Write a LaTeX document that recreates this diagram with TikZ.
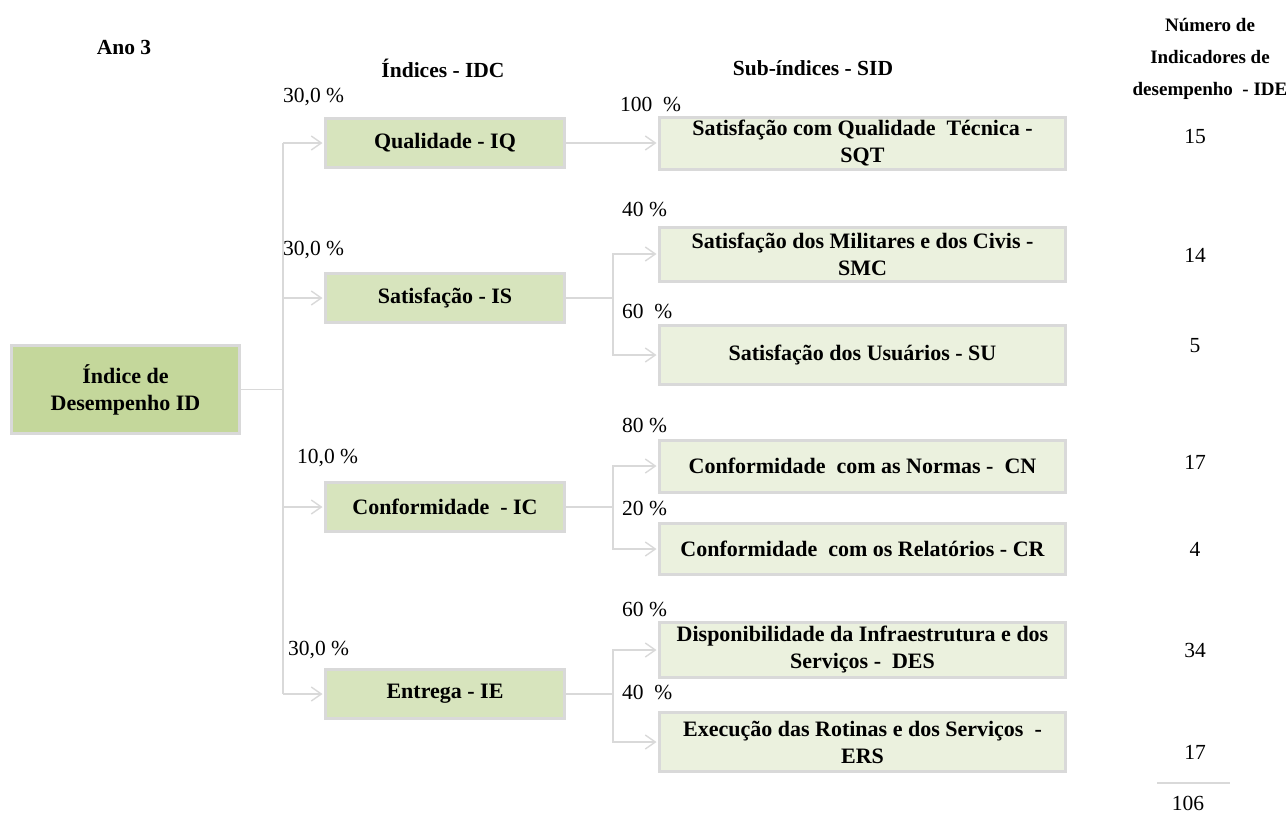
\documentclass[tikz,border=0pt]{standalone}
\usepackage{fontspec}
\setmainfont{Liberation Serif}
\usetikzlibrary{arrows.meta}
\definecolor{edgegray}{HTML}{D9D9D9}
\definecolor{rootfill}{HTML}{C4D79B}
\definecolor{midfill}{HTML}{D7E4BD}
\definecolor{subfill}{HTML}{EBF1DE}
\begin{document}
\begin{tikzpicture}[x=1pt,y=-1pt,
  txt/.style={inner sep=0pt, font=\fontsize{21.5}{26}\selectfont},
  hdr/.style={txt, font=\fontsize{21.5}{31}\selectfont\bfseries, align=center},
  hdrsmall/.style={txt, font=\fontsize{19}{32}\selectfont\bfseries, align=center},
  pct/.style={txt, anchor=west},
  num/.style={txt},
  boxbase/.style={draw=edgegray, line width=3pt, align=center, inner sep=2pt,
    font=\fontsize{22}{27}\selectfont\bfseries},
  rootbox/.style={boxbase, fill=rootfill, minimum width=228, minimum height=88},
  midbox/.style={boxbase, fill=midfill, minimum width=239, minimum height=49},
  subbox/.style={boxbase, fill=subfill, minimum width=406, minimum height=#1},
  subbox/.default=52,
  conn/.style={draw=edgegray, line width=1.6pt},
  arr/.style={conn, -{Straight Barb[length=10pt,width=14pt,line width=1.4pt]}, shorten >=1.5pt}
]
\useasboundingbox (0,0) rectangle (1286,814);

% headers
\node[hdr] (ano) at (124,47) {Ano 3};
\node[hdr] (hidc) at (443,68) {Índices - IDC};
\node[hdr] (hsid) at (813,68) {Sub-índices - SID};
\node[hdrsmall] (hide) at (1210,59) {Número de\\Indicadores de\\desempenho~ - IDE};

% root
\node[rootbox] (root) at (125.5,389.5) {Índice de\\Desempenho ID};

% indices
\node[midbox] (IQ) at (445,143) {Qualidade - IQ};
\node[midbox] (IS) at (445,298) {Satisfação - IS};
\node[midbox] (IC) at (445,507) {Conformidade~ - IC};
\node[midbox] (IE) at (445,694) {Entrega - IE};

% sub-indices
\node[subbox=52] (SQT) at (862.5,143) {Satisfação com Qualidade~ Técnica -\\SQT};
\node[subbox=54] (SMC) at (862.5,254) {Satisfação dos Militares e dos Civis -\\SMC};
\node[subbox=59] (SU)  at (862.5,355) {Satisfação dos Usuários - SU};
\node[subbox=52] (CN)  at (862.5,466) {Conformidade~ com as Normas -~ CN};
\node[subbox=51] (CR)  at (862.5,549) {Conformidade~ com os Relatórios - CR};
\node[subbox=55] (DES) at (862.5,650) {Disponibilidade da Infraestrutura e dos\\Serviços -~ DES};
\node[subbox=59] (ERS) at (862.5,742) {Execução das Rotinas e dos Serviços~ -\\ERS};

% weights
\node[pct] (pIQ) at (283,97)  {30,0 \%};
\node[pct] (pIS) at (283,250) {30,0 \%};
\node[pct] (pIC) at (297,458) {10,0 \%};
\node[pct] (pIE) at (288,650) {30,0 \%};
\node[pct] (pSQT) at (620,104) {100~ \%};
\node[pct] (pSMC) at (622,209) {40 \%};
\node[pct] (pSU)  at (622,311) {60~ \%};
\node[pct] (pCN)  at (622,425) {80 \%};
\node[pct] (pCR)  at (622,508) {20 \%};
\node[pct] (pDES) at (622,609) {60 \%};
\node[pct] (pERS) at (622,692) {40~ \%};

% indicator counts
\node[num] (nSQT) at (1195,137) {15};
\node[num] (nSMC) at (1195,255) {14};
\node[num] (nSU)  at (1195,346) {5};
\node[num] (nCN)  at (1195,462) {17};
\node[num] (nCR)  at (1195,549) {4};
\node[num] (nDES) at (1195,650) {34};
\node[num] (nERS) at (1195,752) {17};
\coordinate (ruleL) at (1157,783);
\coordinate (ruleR) at (1230,783);
\draw[conn] (ruleL) -- (ruleR);
\node[num] (total) at (1188,803) {106};

% trunk from the root to the indices
\coordinate (tq) at (283,143);
\coordinate (te) at (283,694);
\draw[conn] (tq) -- (te);
\draw[conn] (root.east) -- (root.east -| tq);
\draw[arr] (tq) -- (IQ.west);
\draw[arr] (IS.west -| tq) -- (IS.west);
\draw[arr] (IC.west -| tq) -- (IC.west);
\draw[arr] (te) -- (IE.west);

% branches from the indices to the sub-indices
\coordinate (bx) at (613,0);
\draw[arr] (IQ.east) -- (SQT.west);

\draw[conn] (IS.east) -- (IS.east -| bx);
\draw[arr] (IS.east -| bx) |- (SMC.west);
\draw[arr] (IS.east -| bx) |- (SU.west);

\draw[conn] (IC.east) -- (IC.east -| bx);
\draw[arr] (IC.east -| bx) |- (CN.west);
\draw[arr] (IC.east -| bx) |- (CR.west);

\draw[conn] (IE.east) -- (IE.east -| bx);
\draw[arr] (IE.east -| bx) |- (DES.west);
\draw[arr] (IE.east -| bx) |- (ERS.west);
\end{tikzpicture}
\end{document}
